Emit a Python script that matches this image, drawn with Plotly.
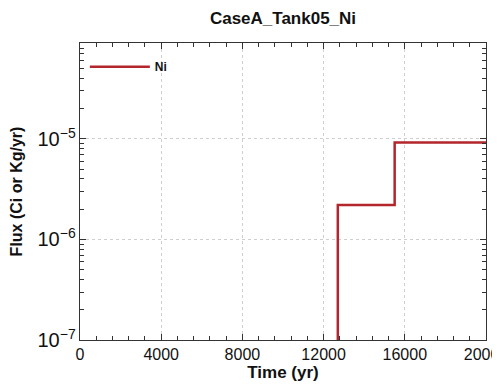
import math
import plotly.graph_objects as go

# Data
time_yr = [0, 12700, 12700, 15500, 15500, 20000]
flux_ni = [1e-10, 1e-10, 2.2e-6, 2.2e-6, 9.2e-6, 9.2e-6]
series_name = "Ni"
x_ticks = [0, 4000, 8000, 12000, 16000, 20000]

fig = go.Figure()
fig.add_trace(go.Scatter(x=time_yr, y=flux_ni, mode="lines", name="<b>" + series_name + "</b>",
                         line=dict(color="#b3262b", width=2.5)))

font_family = "Liberation Sans, Arial, sans-serif"
# the page body adds an 8px offset; the figure is sized so the plot lands where the reference has it
fig.update_layout(
    width=492, height=377,
    margin=dict(l=72, r=14, t=35, b=45, autoexpand=False),
    paper_bgcolor="white", plot_bgcolor="white",
    title=dict(text="<b>CaseA_Tank05_Ni</b>", x=0.5, xref="paper", y=1 - 10 / 377, yref="container",
               xanchor="center", yanchor="middle", font=dict(family=font_family, size=17, color="#111")),
    showlegend=True,
    legend=dict(x=0.012, y=0.92, xanchor="left", yanchor="middle", bgcolor="rgba(0,0,0,0)",
                font=dict(family=font_family, size=12, color="#111"), itemwidth=60),
    font=dict(family=font_family, color="#111"),
)
fig.update_xaxes(
    range=[0, 20000], tickvals=x_ticks, ticktext=[str(v) for v in x_ticks],
    ticks="inside", ticklen=6, tickcolor="#333", mirror="allticks",
    showline=True, linecolor="#333", linewidth=1.2,
    showgrid=True, gridcolor="#cfcfcf", griddash="dot", gridwidth=1,
    zeroline=False, ticklabeloverflow="allow", automargin=False,
    tickfont=dict(family=font_family, size=16, color="#111"),
    title=dict(text="<b>Time (yr)</b>", standoff=0, font=dict(family=font_family, size=17, color="#111")),
    minor=dict(ticks="inside", ticklen=4, dtick=800, tickcolor="#333", showgrid=False),
)
fig.update_yaxes(
    type="log", range=[-7, math.log10(9e-5)],
    dtick=1, exponentformat="power", showexponent="all",
    ticks="inside", ticklen=6, tickcolor="#333", mirror="allticks",
    showline=True, linecolor="#333", linewidth=1.2,
    showgrid=True, gridcolor="#cfcfcf", griddash="dot", gridwidth=1,
    zeroline=False, automargin=False,
    tickfont=dict(family=font_family, size=16, color="#111"),
    title=dict(text="<b>Flux (Ci or Kg/yr)</b>", standoff=12, font=dict(family=font_family, size=16, color="#111")),
    minor=dict(ticks="inside", ticklen=4, dtick="D1", tickcolor="#333", showgrid=False),
)
fig.write_html("out.html")
